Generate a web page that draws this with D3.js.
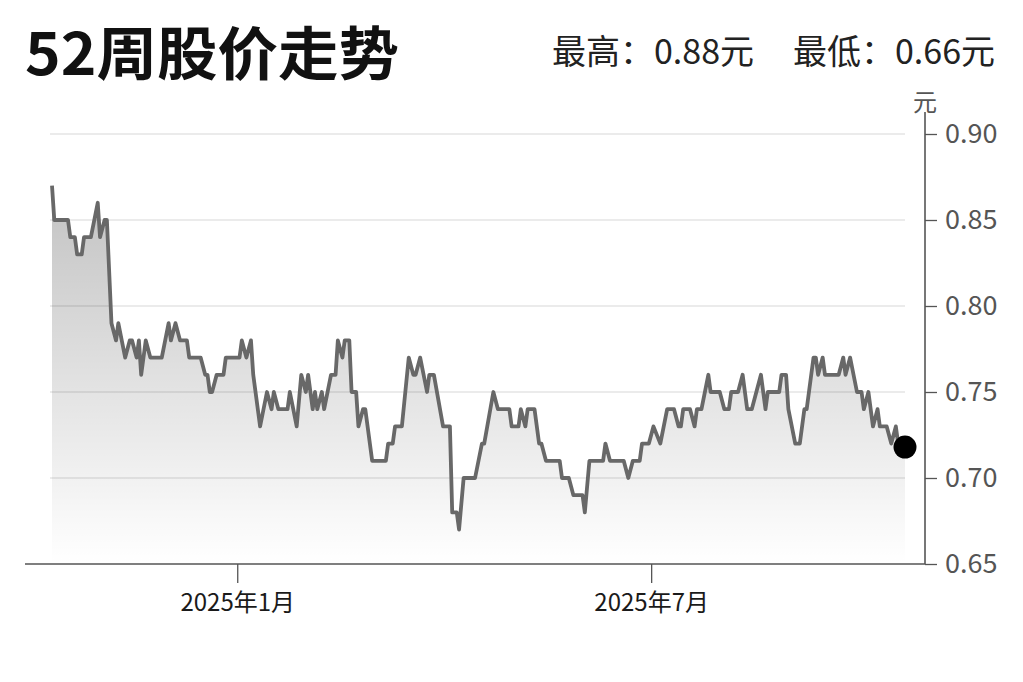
<!DOCTYPE html>
<html>
<head>
<meta charset="utf-8">
<script src="https://cdn.jsdelivr.net/npm/d3@7"></script>
<style>
  html, body { margin: 0; padding: 0; background: #fff; }
  svg { display: block; font-family: "Noto Sans CJK SC", "Noto Sans", sans-serif; }
</style>
</head>
<body>
<svg id="chart"></svg>
<script>
const title = '52周股价走势';
const highLabel = '最高：0.88元';
const lowLabel  = '最低：0.66元';
const unitLabel = '元';

const dates = [
  '2024-10-12','2024-10-13','2024-10-19','2024-10-20','2024-10-22','2024-10-23','2024-10-25','2024-10-26',
  '2024-10-29','2024-11-01','2024-11-02','2024-11-04','2024-11-05','2024-11-07','2024-11-09','2024-11-10',
  '2024-11-13','2024-11-15','2024-11-16','2024-11-18','2024-11-19','2024-11-20','2024-11-22','2024-11-24',
  '2024-11-29','2024-12-02','2024-12-03','2024-12-05','2024-12-07','2024-12-10','2024-12-11','2024-12-16',
  '2024-12-18','2024-12-19','2024-12-20','2024-12-21','2024-12-23','2024-12-26','2024-12-27','2025-01-02',
  '2025-01-03','2025-01-05','2025-01-07','2025-01-08','2025-01-09','2025-01-11','2025-01-14','2025-01-16',
  '2025-01-17','2025-01-19','2025-01-23','2025-01-24','2025-01-27','2025-01-29','2025-01-31','2025-02-01',
  '2025-02-03','2025-02-04','2025-02-05','2025-02-07','2025-02-08','2025-02-11','2025-02-13','2025-02-14',
  '2025-02-16','2025-02-17','2025-02-19','2025-02-20','2025-02-22','2025-02-23','2025-02-25','2025-02-26',
  '2025-03-01','2025-03-07','2025-03-08','2025-03-10','2025-03-11','2025-03-14','2025-03-17','2025-03-19',
  '2025-03-20','2025-03-22','2025-03-25','2025-03-26','2025-03-28','2025-04-01','2025-04-04','2025-04-05',
  '2025-04-07','2025-04-08','2025-04-10','2025-04-15','2025-04-18','2025-04-19','2025-04-23','2025-04-25',
  '2025-04-30','2025-05-01','2025-05-04','2025-05-05','2025-05-07','2025-05-08','2025-05-11','2025-05-13',
  '2025-05-14','2025-05-16','2025-05-22','2025-05-23','2025-05-26','2025-05-28','2025-06-01','2025-06-02',
  '2025-06-04','2025-06-10','2025-06-11','2025-06-13','2025-06-19','2025-06-21','2025-06-23','2025-06-26',
  '2025-06-27','2025-06-30','2025-07-02','2025-07-05','2025-07-08','2025-07-11','2025-07-13','2025-07-14',
  '2025-07-15','2025-07-18','2025-07-20','2025-07-21','2025-07-23','2025-07-26','2025-07-27','2025-07-31',
  '2025-08-02','2025-08-04','2025-08-05','2025-08-08','2025-08-10','2025-08-12','2025-08-14','2025-08-16',
  '2025-08-18','2025-08-20','2025-08-21','2025-08-26','2025-08-27','2025-08-29','2025-08-30','2025-09-02',
  '2025-09-04','2025-09-06','2025-09-07','2025-09-10','2025-09-11','2025-09-12','2025-09-14','2025-09-15',
  '2025-09-21','2025-09-23','2025-09-24','2025-09-26','2025-09-29','2025-10-01','2025-10-02','2025-10-04',
  '2025-10-06','2025-10-08','2025-10-09','2025-10-12','2025-10-14','2025-10-16','2025-10-17','2025-10-20'
];

const prices = [
  0.87,0.85,0.85,0.84,0.84,0.83,0.83,0.84,
  0.84,0.86,0.84,0.85,0.85,0.79,0.78,0.79,
  0.77,0.78,0.78,0.77,0.78,0.76,0.78,0.77,
  0.77,0.79,0.78,0.79,0.78,0.78,0.77,0.77,
  0.76,0.76,0.75,0.75,0.76,0.76,0.77,0.77,
  0.78,0.77,0.78,0.76,0.75,0.73,0.75,0.74,
  0.75,0.74,0.74,0.75,0.73,0.76,0.75,0.76,
  0.74,0.75,0.74,0.75,0.74,0.76,0.76,0.78,
  0.77,0.78,0.78,0.75,0.75,0.73,0.74,0.74,
  0.71,0.71,0.72,0.72,0.73,0.73,0.77,0.76,
  0.76,0.77,0.75,0.76,0.76,0.73,0.73,0.68,
  0.68,0.67,0.70,0.70,0.72,0.72,0.75,0.74,
  0.74,0.73,0.73,0.74,0.73,0.74,0.74,0.72,
  0.72,0.71,0.71,0.70,0.70,0.69,0.69,0.68,
  0.71,0.71,0.72,0.71,0.71,0.70,0.71,0.71,
  0.72,0.72,0.73,0.72,0.74,0.74,0.73,0.73,
  0.74,0.74,0.73,0.74,0.74,0.76,0.75,0.75,
  0.74,0.74,0.75,0.75,0.76,0.74,0.74,0.75,
  0.76,0.74,0.75,0.75,0.76,0.76,0.74,0.72,
  0.72,0.74,0.74,0.77,0.77,0.76,0.77,0.76,
  0.76,0.77,0.76,0.77,0.75,0.75,0.74,0.75,
  0.73,0.74,0.73,0.73,0.72,0.73,0.72,0.718
];

const yTicks = [0.65, 0.70, 0.75, 0.80, 0.85, 0.90];
const xTicks = ['2025-01-01', '2025-07-01'];
// ————————————————————

const fullW = 1023;
const fullH = 682;
const margin = { top: 134, right: 98, bottom: 118, left: 52 };

const parse = d3.timeParse('%Y-%m-%d');
const data = dates.map((d, i) => ({ date: parse(d), value: prices[i] }));

const svg = d3.select('#chart')
  .attr('width', fullW)
  .attr('height', fullH)
  .attr('viewBox', `0 0 ${fullW} ${fullH}`);

const x = d3.scaleTime()
  .domain(d3.extent(data, d => d.date))
  .range([margin.left, fullW - margin.right - 20]);
const y = d3.scaleLinear()
  .domain([yTicks[0], yTicks[yTicks.length - 1]])
  .range([fullH - margin.bottom, margin.top]);

const axisX = fullW - margin.right;   // y axis sits right of the plot
const baseY = y(yTicks[0]);

// gradient for the area under the line
const grad = svg.append('defs').append('linearGradient')
  .attr('id', 'areaFill')
  .attr('gradientUnits', 'userSpaceOnUse')
  .attr('x1', 0).attr('x2', 0)
  .attr('y1', y(d3.max(prices))).attr('y2', baseY);
grad.append('stop').attr('offset', 0).attr('stop-color', '#000').attr('stop-opacity', 0.24);
grad.append('stop').attr('offset', 1).attr('stop-color', '#000').attr('stop-opacity', 0.0);

// gridlines
svg.append('g')
  .selectAll('line')
  .data(yTicks.slice(1))
  .join('line')
    .attr('x1', x.range()[0] - 2)
    .attr('x2', x.range()[1])
    .attr('y1', d => y(d))
    .attr('y2', d => y(d))
    .attr('stroke', '#ebebeb')
    .attr('stroke-width', 2);

// area + line
const area = d3.area()
  .x(d => x(d.date))
  .y0(baseY)
  .y1(d => y(d.value));

svg.append('path')
  .datum(data)
  .attr('fill', 'url(#areaFill)')
  .attr('d', area);

const line = d3.line()
  .x(d => x(d.date))
  .y(d => y(d.value));

svg.append('path')
  .datum(data)
  .attr('fill', 'none')
  .attr('stroke', '#686868')
  .attr('stroke-width', 3.8)
  .attr('stroke-linejoin', 'round')
  .attr('d', line);

// last price dot
const last = data[data.length - 1];
svg.append('circle')
  .attr('cx', x(last.date))
  .attr('cy', y(last.value))
  .attr('r', 11.5)
  .attr('fill', '#000');

// x axis
const fmtMonth = d => `${d.getFullYear()}年${d.getMonth() + 1}月`;
const gx = svg.append('g')
  .attr('transform', `translate(0,${baseY})`)
  .call(d3.axisBottom(x)
    .tickValues(xTicks.map(parse))
    .tickSize(19)
    .tickPadding(11)
    .tickFormat(fmtMonth));
gx.select('.domain').remove();
gx.selectAll('.tick line').attr('stroke', '#555').attr('stroke-width', 1.3);
gx.selectAll('.tick text')
  .attr('fill', '#1a1a1a')
  .style('font-size', '24px')
  .style('font-family', '"Noto Sans CJK SC", sans-serif');

svg.append('line')
  .attr('x1', 25).attr('x2', axisX)
  .attr('y1', baseY).attr('y2', baseY)
  .attr('stroke', '#555')
  .attr('stroke-width', 1.6);

// y axis on the right
const gy = svg.append('g')
  .attr('transform', `translate(${axisX},0)`)
  .call(d3.axisRight(y)
    .tickValues(yTicks)
    .tickSize(12)
    .tickPadding(8)
    .tickFormat(d3.format('.2f')));
gy.select('.domain').remove();
gy.selectAll('.tick line').attr('stroke', '#555').attr('stroke-width', 1.3);
gy.selectAll('.tick text')
  .attr('fill', '#555')
  .style('font-size', '27px')
  .style('font-family', '"Noto Sans CJK SC", sans-serif');

svg.append('line')
  .attr('x1', axisX).attr('x2', axisX)
  .attr('y1', y(yTicks[yTicks.length - 1]) - 22).attr('y2', baseY)
  .attr('stroke', '#555')
  .attr('stroke-width', 1.6);

svg.append('text')
  .attr('x', axisX)
  .attr('y', y(yTicks[yTicks.length - 1]) - 23)
  .attr('text-anchor', 'middle')
  .attr('fill', '#555')
  .attr('font-size', '24px')
  .text(unitLabel);

// title
svg.append('text')
  .attr('x', 25)
  .attr('y', 75)
  .attr('font-size', '58px')
  .attr('font-weight', 'bold')
  .attr('fill', '#111')
  .attr('textLength', 374)
  .attr('lengthAdjust', 'spacingAndGlyphs')
  .text(title);

// high / low
svg.append('text')
  .attr('x', 552)
  .attr('y', 64)
  .attr('font-size', '34px')
  .attr('fill', '#222')
  .text(highLabel);
svg.append('text')
  .attr('x', 995)
  .attr('y', 64)
  .attr('text-anchor', 'end')
  .attr('font-size', '34px')
  .attr('fill', '#222')
  .text(lowLabel);
</script>
</body>
</html>
